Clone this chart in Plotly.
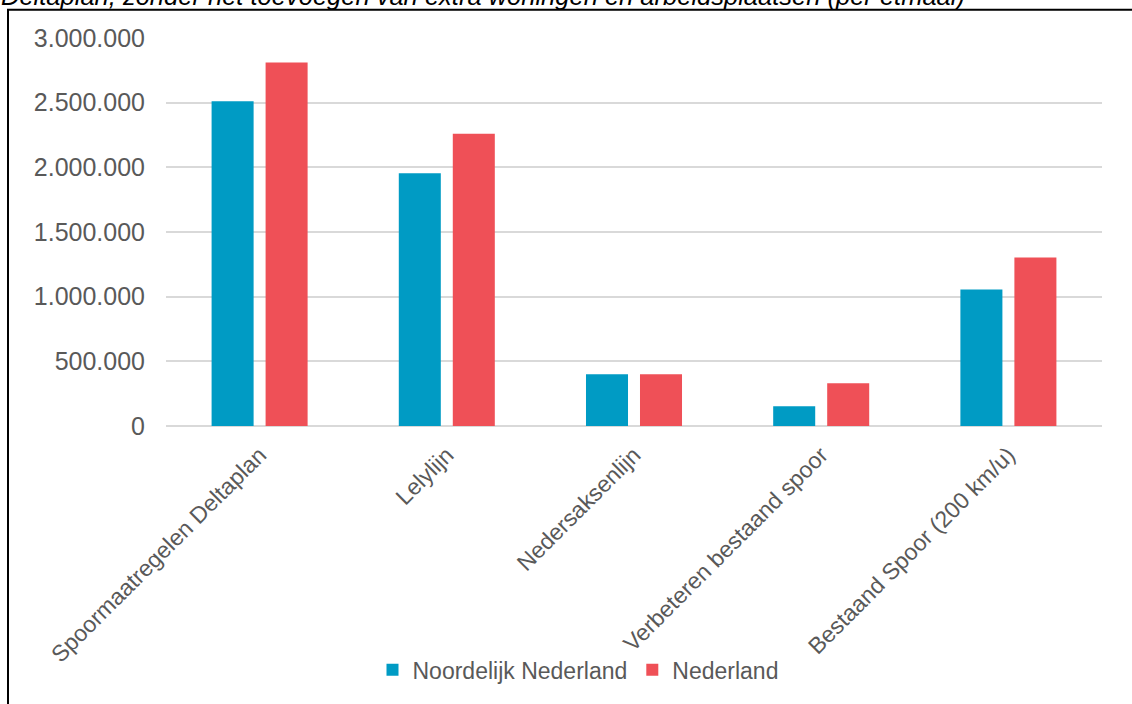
import plotly.graph_objects as go

categories = ["Spoormaatregelen Deltaplan", "Lelylijn", "Nedersaksenlijn",
              "Verbeteren bestaand spoor", "Bestaand Spoor (200 km/u)"]
noordelijk = [2510000, 1955000, 400000, 152000, 1055000]
nederland = [2810000, 2260000, 400000, 330000, 1303000]
tick_vals = [0, 500000, 1000000, 1500000, 2000000, 2500000, 3000000]
tick_text = ["0", "500.000", "1.000.000", "1.500.000", "2.000.000", "2.500.000", "3.000.000"]
title_text = "Deltaplan, zonder het toevoegen van extra woningen en arbeidsplaatsen (per etmaal)"

BLUE = "#009BC4"
RED = "#EF5057"
GREY = "#595959"
FONT = "Liberation Sans, Arial, sans-serif"

fig = go.Figure()
fig.add_trace(go.Bar(x=categories, y=noordelijk, name="Noordelijk Nederland",
                     marker=dict(color=BLUE, line=dict(width=0))))
fig.add_trace(go.Bar(x=categories, y=nederland, name="Nederland",
                     marker=dict(color=RED, line=dict(width=0))))

L, R, T, B = 166, 30, 38, 276
W, H = 1132, 704
pw, ph = W - L - R, H - T - B

def px_x(x):
    return (x - L) / pw

def px_y(y):
    return (H - B - y) / ph

fig.update_layout(
    width=W, height=H,
    margin=dict(l=L, r=R, t=T, b=B, pad=0),
    paper_bgcolor="white", plot_bgcolor="white",
    barmode="group", bargap=0.423, bargroupgap=0.222,
    font=dict(family=FONT, color=GREY, size=22),
    showlegend=True,
    legend=dict(orientation="h", x=px_x(578), xanchor="center",
                y=px_y(673), yanchor="middle",
                font=dict(family=FONT, size=23, color=GREY),
                itemwidth=30, traceorder="normal", bgcolor="rgba(0,0,0,0)"),
    xaxis=dict(tickangle=-45, tickfont=dict(family=FONT, size=23, color=GREY),
               showgrid=False, showline=False, ticks="",
               ticklabelstandoff=10),
    yaxis=dict(range=[0, 3000000], tickvals=tick_vals, ticktext=tick_text,
               tickfont=dict(family=FONT, size=25, color=GREY),
               showgrid=True, gridcolor="#D9D9D9", gridwidth=1.5,
               zeroline=True, zerolinecolor="#D9D9D9", zerolinewidth=1.5,
               showline=False, ticks="", ticklabelstandoff=20),
)

fig.add_annotation(text="<i>" + title_text + "</i>", xref="paper", yref="paper",
                   x=px_x(-1), y=px_y(-4), xanchor="left", yanchor="middle",
                   showarrow=False, font=dict(family=FONT, size=25.5, color="#000000"))

fig.add_shape(type="rect", xref="paper", yref="paper",
              x0=px_x(8), x1=px_x(W + 10),
              y0=px_y(H + 10), y1=px_y(9.5),
              line=dict(color="black", width=2), fillcolor="rgba(0,0,0,0)", layer="below")

fig.write_html("out.html", config={"displayModeBar": False},
               post_script="document.body.style.margin='0';")
